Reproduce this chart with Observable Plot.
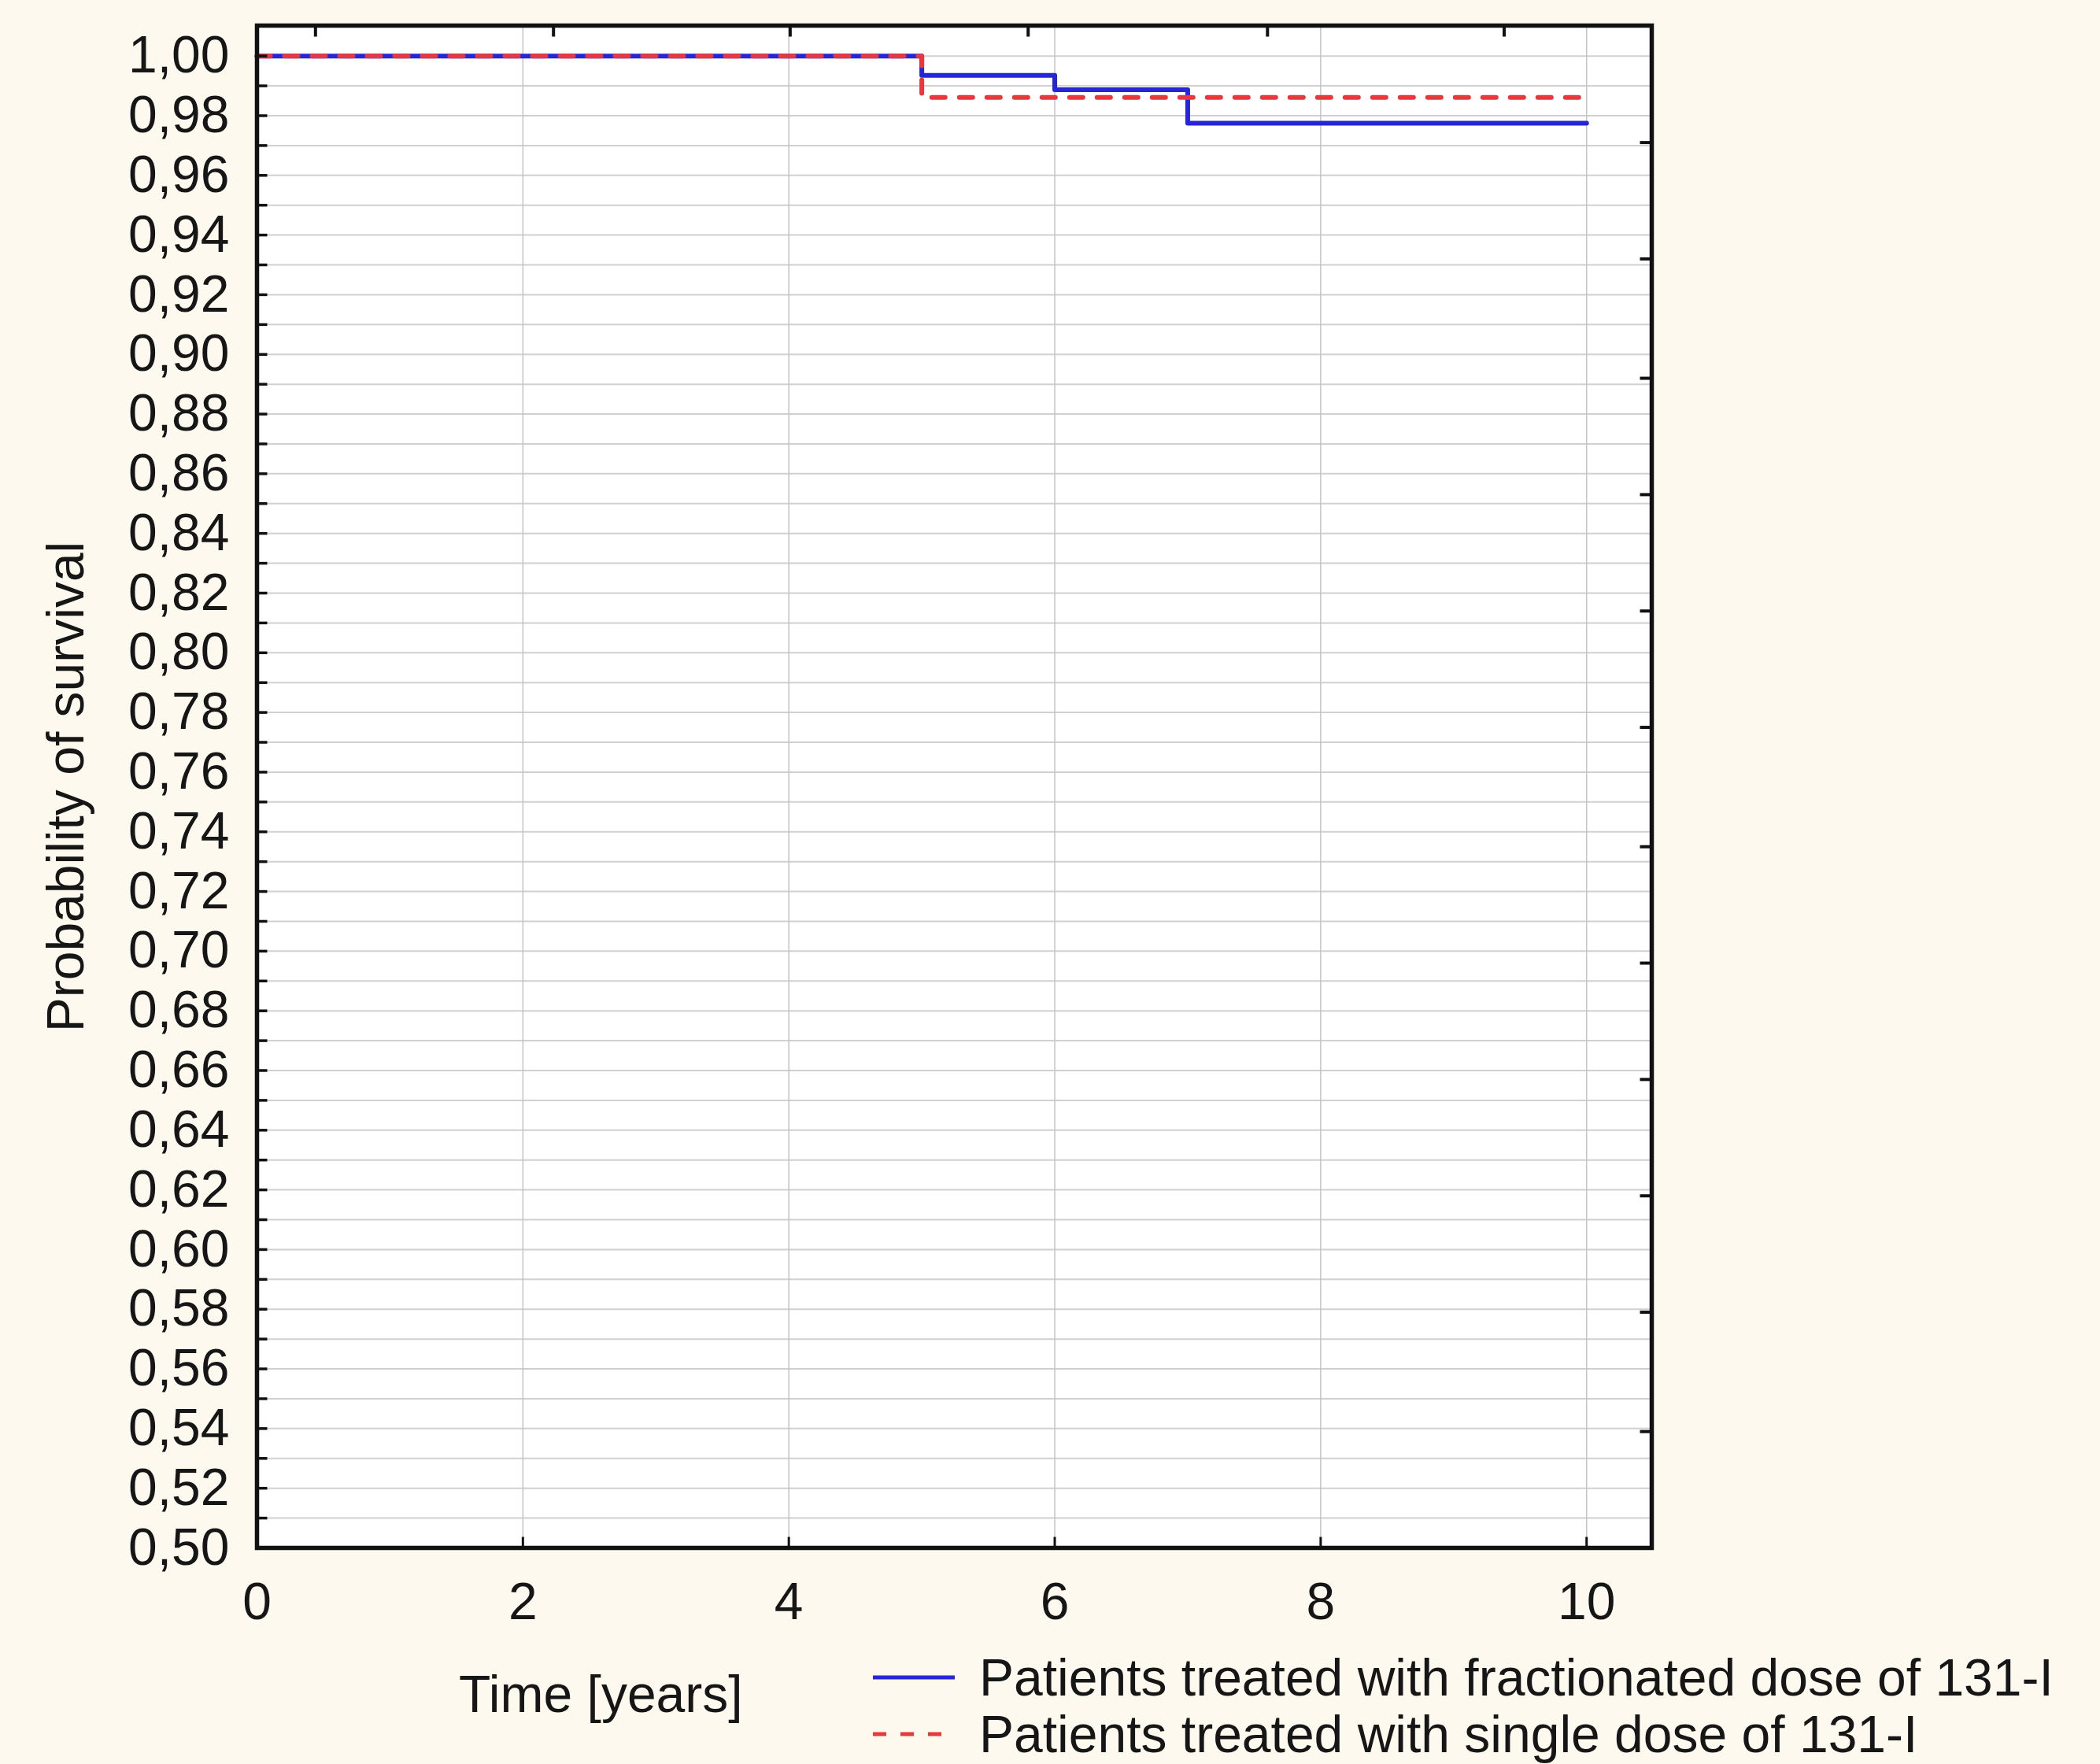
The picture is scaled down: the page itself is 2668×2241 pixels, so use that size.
<!DOCTYPE html>
<html>
<head>
<meta charset="utf-8">
<script src="https://cdn.jsdelivr.net/npm/d3@7"></script>
<script src="https://cdn.jsdelivr.net/npm/@observablehq/plot@0.6"></script>
<style>
  html, body { margin: 0; padding: 0; background: #fdf9ee; }
  body { width: 2668px; height: 2241px; overflow: hidden; font-family: "Liberation Sans", Arial, sans-serif; color: #161616; }
  #chart svg { display: block; }
  #below { position: relative; width: 2668px; height: 151px; }
  .xlabel { position: absolute; left: 583px; top: 29px; font-size: 66px; line-height: 66px; white-space: nowrap; }
  .legend-row { position: absolute; left: 1109px; display: flex; align-items: center; font-size: 66px; line-height: 66px; white-space: nowrap; }
  .legend-row svg { display: block; margin-right: 31px; }
</style>
</head>
<body>
<div id="chart"></div>
<div id="below"></div>
<script>
// ---- data ----
const fractionatedTime = [0, 5, 6, 7, 10];
const fractionatedSurvival = [1.0, 0.9935, 0.9887, 0.9775, 0.9775];
const singleTime = [0, 5, 10];
const singleSurvival = [1.0, 0.9861, 0.9861];

const seriesNames = [
  "Patients treated with fractionated dose of 131-I",
  "Patients treated with single dose of 131-I"
];
const seriesColors = ["#2626d8", "#e8383f"];

const xTickValues = [0, 2, 4, 6, 8, 10];
const yTickValues = [0.50, 0.52, 0.54, 0.56, 0.58, 0.60, 0.62, 0.64, 0.66, 0.68, 0.70, 0.72, 0.74,
                     0.76, 0.78, 0.80, 0.82, 0.84, 0.86, 0.88, 0.90, 0.92, 0.94, 0.96, 0.98, 1.00];
// secondary (unlabelled) axis ticks on the top and right edges of the frame
const topAxisTicks = [0.44, 2.23, 4.01, 5.80, 7.60, 9.38];
const rightAxisTicks = [0.539, 0.579, 0.618, 0.657, 0.696, 0.735, 0.775, 0.814, 0.853, 0.892, 0.932, 0.971];

const xLabel = "Time [years]";
const yLabel = "Probability of survival";

// ---- build tables ----
const fractionated = fractionatedTime.map((t, i) => ({time: t, survival: fractionatedSurvival[i]}));
const single = singleTime.map((t, i) => ({time: t, survival: singleSurvival[i]}));
const yMinor = d3.range(1, 51).map(i => +(0.5 + i * 0.01).toFixed(2)); // grid every 0.01
const xInner = xTickValues.filter(v => v > 0);

const tickShape = {draw(context, l) { context.moveTo(0, 0); context.lineTo(0, -l); }};
const tickStyle = {anchor: "start", shape: tickShape, stroke: "#111", strokeLinecap: "butt"};

const chart = Plot.plot({
  width: 2668,
  height: 2090,
  marginLeft: 326,
  marginRight: 570,
  marginTop: 32,
  marginBottom: 124,
  style: {background: "transparent", fontFamily: "'Liberation Sans', Arial, sans-serif", fontSize: "66px", color: "#161616"},
  x: {domain: [0, 10.49], ticks: xTickValues, tickSize: 0, tickPadding: 44, label: null},
  y: {
    domain: [0.5, 1.0102],
    ticks: yTickValues,
    tickSize: 0,
    tickPadding: 35,
    tickFormat: d => d.toFixed(2).replace(".", ","),
    label: yLabel,
    labelAnchor: "center",
    labelArrow: "none",
    labelOffset: 267
  },
  marks: [
    Plot.frame({fill: "white", stroke: null}),
    Plot.ruleY(yMinor, {stroke: "#d0d0d0", strokeWidth: 2}),
    Plot.ruleX(xInner, {stroke: "#c4c4c4", strokeWidth: 1.5}),
    Plot.line(fractionated, {x: "time", y: "survival", curve: "step-after", stroke: seriesColors[0], strokeWidth: 6}),
    Plot.line(single, {x: "time", y: "survival", curve: "step-after", stroke: seriesColors[1], strokeWidth: 6, strokeDasharray: "17,18"}),
    Plot.vector(yMinor, {y: d => d, frameAnchor: "left", rotate: 90, length: 13, strokeWidth: 3.5, ...tickStyle}),
    Plot.vector(xInner, {x: d => d, frameAnchor: "bottom", rotate: 0, length: 14, strokeWidth: 3, ...tickStyle}),
    Plot.vector(topAxisTicks, {x: d => d, frameAnchor: "top", rotate: 180, length: 14, strokeWidth: 4, ...tickStyle}),
    Plot.vector(rightAxisTicks, {y: d => d, frameAnchor: "right", rotate: -90, length: 15, strokeWidth: 4, ...tickStyle}),
    Plot.frame({stroke: "#111", strokeWidth: 5.5})
  ]
});
document.getElementById("chart").appendChild(chart);

// ---- axis title and legend below the plot ----
const below = document.getElementById("below");
const xl = document.createElement("div");
xl.className = "xlabel";
xl.textContent = xLabel;
below.appendChild(xl);

const rowTops = [8, 80];
const dashes = [null, "17,18"];
seriesNames.forEach((name, i) => {
  const row = document.createElement("div");
  row.className = "legend-row";
  row.style.top = rowTops[i] + "px";
  const sw = d3.create("svg").attr("width", 104).attr("height", 10);
  sw.append("line").attr("x1", 0).attr("x2", 104).attr("y1", 5).attr("y2", 5)
    .attr("stroke", seriesColors[i]).attr("stroke-width", 5)
    .attr("stroke-dasharray", dashes[i]);
  row.appendChild(sw.node());
  const label = document.createElement("span");
  label.textContent = name;
  row.appendChild(label);
  below.appendChild(row);
});
</script>
</body>
</html>
